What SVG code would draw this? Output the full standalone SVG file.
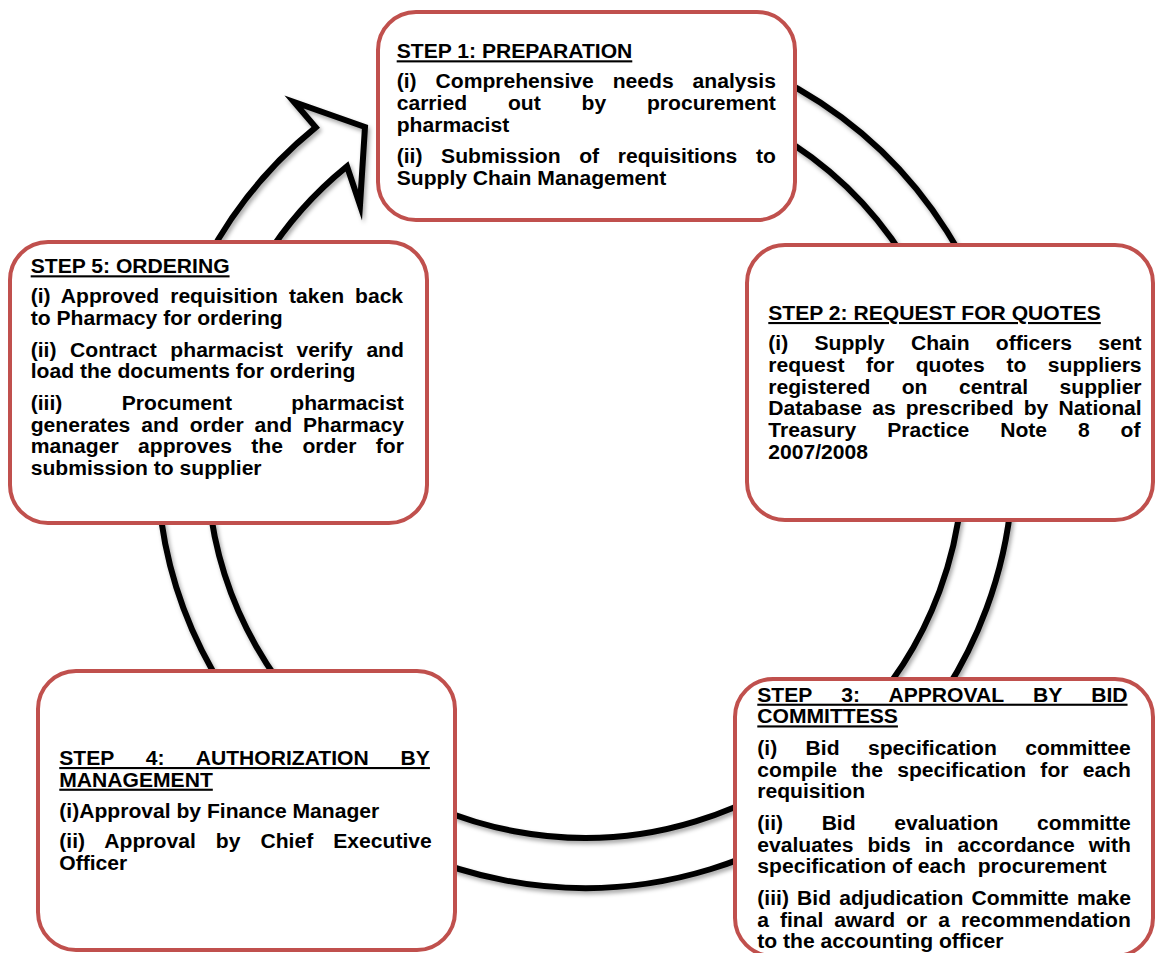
<svg xmlns="http://www.w3.org/2000/svg" width="1155" height="953" viewBox="0 0 1155 953">
<defs>
<filter id="sh" x="-10%" y="-10%" width="120%" height="120%">
<feDropShadow dx="2" dy="3" stdDeviation="2" flood-color="#000" flood-opacity="0.35"/>
</filter>
<style>
.box{fill:#fff;stroke:#C0504D;stroke-width:4}
.ring{fill:none;stroke:#000;stroke-width:6;stroke-linejoin:miter;stroke-miterlimit:10}
.t{font-family:"Liberation Sans",Arial,Helvetica,sans-serif;font-weight:bold;font-size:21.1px;fill:#000}
.u{text-decoration:underline}
</style>
</defs>
<rect width="1155" height="953" fill="#fff"/>
<g id="connectors">
<path class="ring" filter="url(#sh)" d="M 622.3 33.6 A 428 428 0 1 1 315.7 127.4 L 294 102 L 365 127 L 360 205 L 347 166.3 A 378 378 0 1 0 617.9 83.4 Z"/>
</g>
<g id="step1">
<rect class="box" x="378" y="12" width="417" height="208" rx="38"/>
<text class="t u" x="396.7" y="58.3">STEP 1: PREPARATION</text>
<text class="t" x="396.7" y="88.3" word-spacing="13.07">(i) Comprehensive needs analysis</text>
<text class="t" x="396.7" y="110" word-spacing="34.97">carried out by procurement</text>
<text class="t" x="396.7" y="131.7">pharmacist</text>
<text class="t" x="396.7" y="163.3" word-spacing="12.75">(ii) Submission of requisitions to</text>
<text class="t" x="396.7" y="185">Supply Chain Management</text>
</g>
<g id="step2">
<rect class="box" x="747" y="245" width="406" height="275" rx="38"/>
<text class="t u" x="768.3" y="320">STEP 2: REQUEST FOR QUOTES</text>
<text class="t" x="768.3" y="350" word-spacing="20.37">(i) Supply Chain officers sent</text>
<text class="t" x="768.3" y="371.7" word-spacing="15.68">request for quotes to suppliers</text>
<text class="t" x="768.3" y="393.5" word-spacing="25.57">registered on central supplier</text>
<text class="t" x="768.3" y="415.2" word-spacing="4.23">Database as prescribed by National</text>
<text class="t" x="768.3" y="437" word-spacing="25.05">Treasury Practice Note 8 of</text>
<text class="t" x="768.3" y="458.7">2007/2008</text>
</g>
<g id="step3">
<rect class="box" x="735" y="679" width="418" height="277" rx="38"/>
<text class="t u" x="757.3" y="701.7" word-spacing="23.4">STEP 3: APPROVAL BY BID</text>
<text class="t u" x="757.3" y="723.4">COMMITTESS</text>
<text class="t" x="757.3" y="755" word-spacing="22.5">(i) Bid specification committee</text>
<text class="t" x="757.3" y="776.7" word-spacing="8.4">compile the specification for each</text>
<text class="t" x="757.3" y="798.3">requisition</text>
<text class="t" x="757.3" y="830" word-spacing="32.7">(ii) Bid evaluation committe</text>
<text class="t" x="757.3" y="851.7" word-spacing="8.1">evaluates bids in accordance with</text>
<text class="t" x="757.3" y="873.3">specification of each&#160; procurement</text>
<text class="t" x="757.3" y="905" word-spacing="2.27">(iii) Bid adjudication Committe make</text>
<text class="t" x="757.3" y="926.7" word-spacing="5.08">a final award or a recommendation</text>
<text class="t" x="757.3" y="948.3">to the accounting officer</text>
</g>
<g id="step4">
<rect class="box" x="38" y="671" width="417" height="279" rx="38"/>
<text class="t u" x="59.3" y="765" word-spacing="26">STEP 4: AUTHORIZATION BY</text>
<text class="t u" x="59.3" y="786.7">MANAGEMENT</text>
<text class="t" x="59.3" y="818.3">(i)Approval by Finance Manager</text>
<text class="t" x="59.3" y="848.3" word-spacing="14.2">(ii) Approval by Chief Executive</text>
<text class="t" x="59.3" y="870">Officer</text>
</g>
<g id="step5">
<rect class="box" x="10" y="242" width="417" height="281" rx="38"/>
<text class="t u" x="30.7" y="273.3">STEP 5: ORDERING</text>
<text class="t" x="30.7" y="303.3" word-spacing="5.1">(i) Approved requisition taken back</text>
<text class="t" x="30.7" y="325">to Pharmacy for ordering</text>
<text class="t" x="30.7" y="356.7" word-spacing="7.73">(ii) Contract pharmacist verify and</text>
<text class="t" x="30.7" y="378.3">load the documents for ordering</text>
<text class="t" x="30.7" y="410" word-spacing="53.57">(iii) Procument pharmacist</text>
<text class="t" x="30.7" y="431.7" word-spacing="5.08">generates and order and Pharmacy</text>
<text class="t" x="30.7" y="453.3" word-spacing="13.6">manager approves the order for</text>
<text class="t" x="30.7" y="475">submission to supplier</text>
</g>
</svg>
